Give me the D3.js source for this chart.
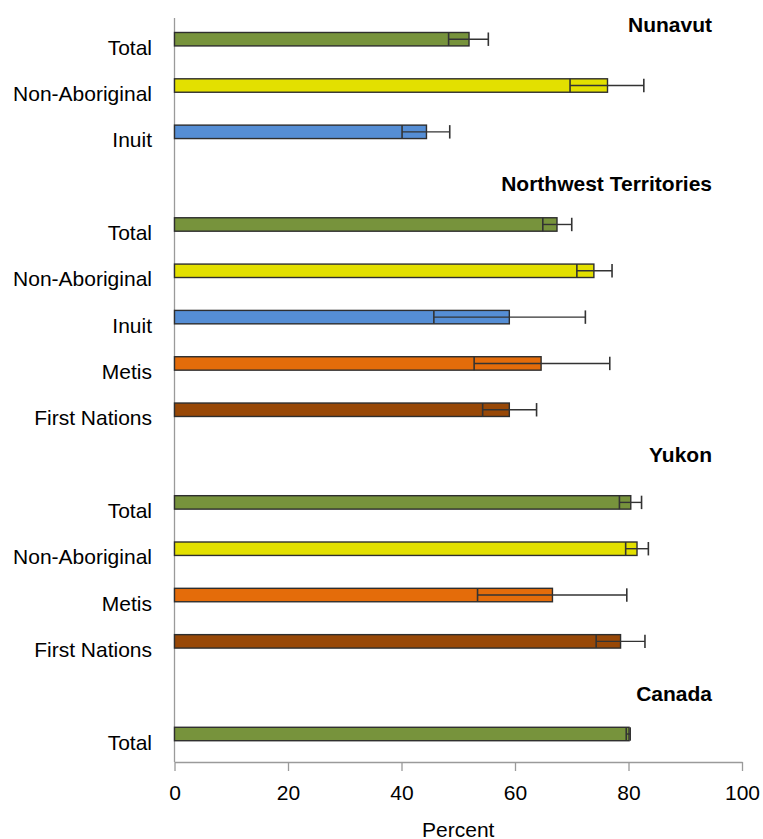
<!DOCTYPE html>
<html>
<head>
<meta charset="utf-8">
<script src="https://cdn.jsdelivr.net/npm/d3@7/dist/d3.min.js"></script>
<style>
  html, body { margin: 0; padding: 0; background: #fff; }
  svg { display: block; font-family: "Liberation Sans", Arial, Helvetica, sans-serif; }
</style>
</head>
<body>
<svg id="chart" width="763" height="839"></svg>
<script>
// Region groups, top to bottom
const groups = ["Nunavut", "Northwest Territories", "Yukon", "Canada"];

// One entry per bar, top to bottom
const regions = [
  "Nunavut", "Nunavut", "Nunavut",
  "Northwest Territories", "Northwest Territories", "Northwest Territories", "Northwest Territories", "Northwest Territories",
  "Yukon", "Yukon", "Yukon", "Yukon",
  "Canada"
];
const categories = [
  "Total", "Non-Aboriginal", "Inuit",
  "Total", "Non-Aboriginal", "Inuit", "Metis", "First Nations",
  "Total", "Non-Aboriginal", "Metis", "First Nations",
  "Total"
];
const percent = [51.9, 76.3, 44.4, 67.4, 73.9, 59.0, 64.6, 59.0, 80.4, 81.5, 66.6, 78.6, 80.1];
const ciLow   = [48.3, 69.7, 40.1, 64.9, 70.9, 45.7, 52.8, 54.3, 78.4, 79.5, 53.4, 74.3, 79.6];
const ciHigh  = [55.3, 82.7, 48.5, 70.0, 77.1, 72.4, 76.7, 63.8, 82.3, 83.5, 79.7, 82.9, 80.3];

const xTicks = [0, 20, 40, 60, 80, 100];
const xTitle = "Percent";

const categoryColors = {
  "Total": "#77933C",
  "Non-Aboriginal": "#E3E000",
  "Inuit": "#558ED5",
  "Metis": "#E46C0A",
  "First Nations": "#984807"
};

// Layout
const W = 763, H = 839;
const plot = { left: 174.5, right: 742, top: 18, bottom: 762 };
const firstRowY = 39.2, lastRowY = 734;
const titleRight = 712;
const titleOffsets = [-7.7, -33.5, -40.7, -33.5];
const fontSize = 21;

const svg = d3.select("#chart");

const rows = percent.map((v, i) => ({
  key: regions[i] + "|" + categories[i] + "|" + i,
  region: regions[i],
  category: categories[i],
  value: v, lo: ciLow[i], hi: ciHigh[i]
}));

// Row keys with an empty spacer row between region groups
const rowKeys = [];
groups.forEach((g, gi) => {
  if (gi > 0) rowKeys.push("gap-" + gi);
  rows.filter(r => r.region === g).forEach(r => rowKeys.push(r.key));
});

const x = d3.scaleLinear().domain([0, 100]).range([plot.left, plot.right]);
const y = d3.scalePoint().domain(rowKeys).range([firstRowY, lastRowY]);
const barH = y.step() * 0.29;
const capH = barH;

// Axes
const axisColor = "#9a9a9a";
const xAxis = svg.append("g")
  .attr("transform", `translate(0,${plot.bottom})`)
  .call(d3.axisBottom(x).tickValues(xTicks).tickSize(9).tickSizeOuter(0).tickPadding(14));
xAxis.select(".domain").attr("stroke", axisColor).attr("stroke-width", 1.3);
xAxis.selectAll(".tick line").attr("stroke", axisColor).attr("stroke-width", 1.3);
xAxis.selectAll(".tick text")
  .attr("font-size", fontSize).attr("fill", "#000")
  .attr("font-family", "Liberation Sans, Arial, sans-serif");

svg.append("line")
  .attr("x1", plot.left).attr("x2", plot.left)
  .attr("y1", plot.top).attr("y2", plot.bottom)
  .attr("stroke", axisColor).attr("stroke-width", 1.3);

svg.append("text")
  .attr("x", (plot.left + plot.right) / 2)
  .attr("y", 836.5)
  .attr("text-anchor", "middle")
  .attr("font-size", fontSize)
  .text(xTitle);

// Bars
const bars = svg.append("g").selectAll("g.bar").data(rows).join("g").attr("class", "bar");
bars.append("rect")
  .attr("x", x(0))
  .attr("y", d => y(d.key) - barH / 2)
  .attr("width", d => x(d.value) - x(0))
  .attr("height", barH)
  .attr("fill", d => categoryColors[d.category])
  .attr("stroke", "#2e2e2e")
  .attr("stroke-width", 1.4);

// Confidence intervals
const errColor = "#333";
bars.append("line")
  .attr("x1", d => x(d.lo)).attr("x2", d => x(d.hi))
  .attr("y1", d => y(d.key)).attr("y2", d => y(d.key))
  .attr("stroke", errColor).attr("stroke-width", 1.4);
bars.append("line")
  .attr("x1", d => x(d.lo)).attr("x2", d => x(d.lo))
  .attr("y1", d => y(d.key) - capH / 2).attr("y2", d => y(d.key) + capH / 2)
  .attr("stroke", errColor).attr("stroke-width", 1.6);
bars.append("line")
  .attr("x1", d => x(d.hi)).attr("x2", d => x(d.hi))
  .attr("y1", d => y(d.key) - capH / 2).attr("y2", d => y(d.key) + capH / 2)
  .attr("stroke", errColor).attr("stroke-width", 1.6);

// Category labels
svg.append("g").selectAll("text").data(rows).join("text")
  .attr("x", 152)
  .attr("y", d => y(d.key) + 15.5)
  .attr("text-anchor", "end")
  .attr("font-size", fontSize)
  .attr("fill", "#000")
  .text(d => d.category);

// Region titles
svg.append("g").selectAll("text").data(groups).join("text")
  .attr("x", titleRight)
  .attr("y", (g, gi) => y(rows.find(r => r.region === g).key) + titleOffsets[gi])
  .attr("text-anchor", "end")
  .attr("font-size", fontSize)
  .attr("font-weight", "bold")
  .attr("fill", "#000")
  .text(g => g);
</script>
</body>
</html>
